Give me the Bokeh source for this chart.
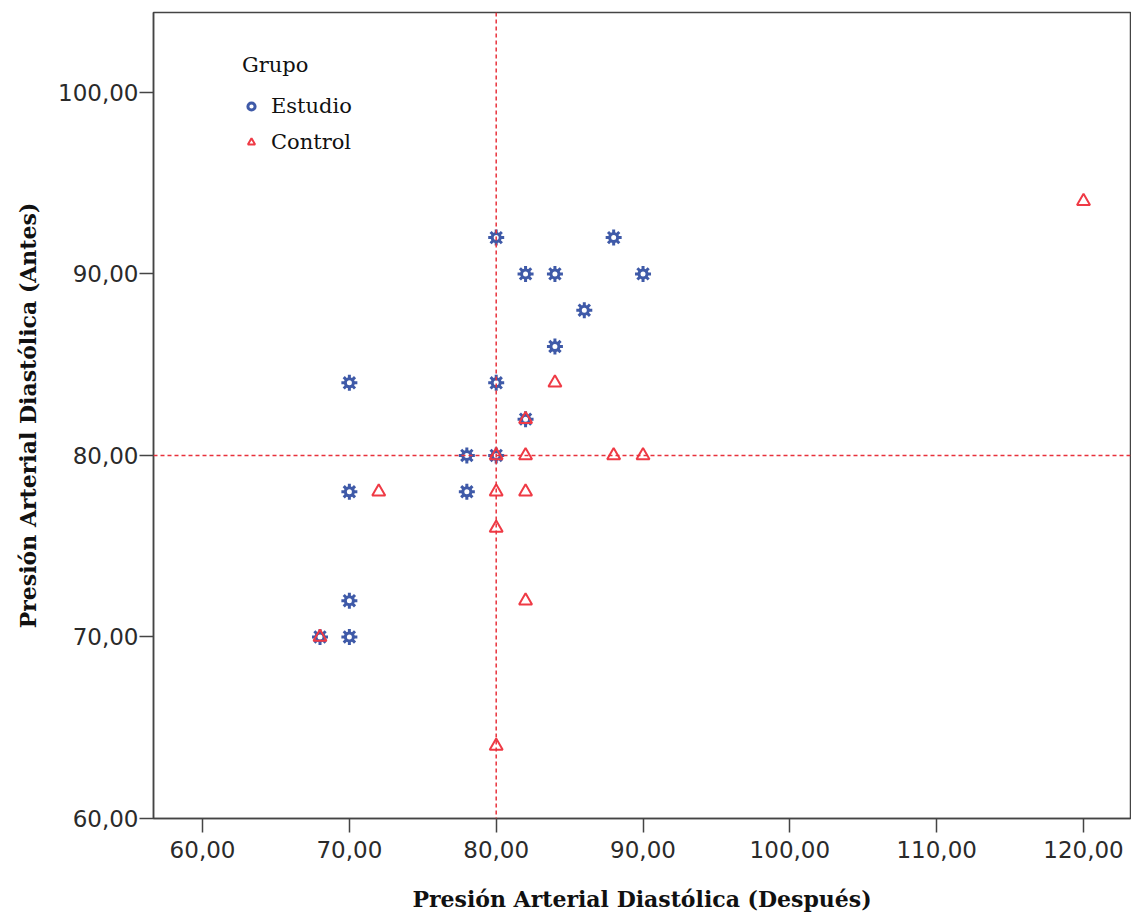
from bokeh.plotting import figure
from bokeh.models import Range1d, Span, FixedTicker, CustomJSTickFormatter, Legend, LegendItem
from bokeh.embed import file_html
from bokeh.resources import INLINE

# Data: (Después, Antes)
estudio_x = [80, 82, 84, 88, 90, 86, 84, 70, 80, 82, 78, 80, 70, 78, 70, 70, 68]
estudio_y = [92, 90, 90, 92, 90, 88, 86, 84, 84, 82, 80, 80, 78, 78, 72, 70, 70]
control_x = [120, 84, 82, 80, 82, 88, 90, 72, 80, 82, 80, 82, 68, 80]
control_y = [94, 84, 82, 80, 80, 80, 80, 78, 78, 78, 76, 72, 70, 64]
x_ticks = [60, 70, 80, 90, 100, 110, 120]
y_ticks = [60, 70, 80, 90, 100]
ref_x = 80
ref_y = 80

p = figure(width=1131, height=915, output_backend="svg", toolbar_location=None,
           x_range=Range1d(56.66, 123.2), y_range=Range1d(60, 104.4),
           min_border_left=153, min_border_right=1, min_border_top=12, min_border_bottom=97)
p.grid.visible = False
p.outline_line_color = "#444444"
p.outline_line_width = 1.5
p.background_fill_color = "white"

fmt = CustomJSTickFormatter(code="return tick.toFixed(2).replace('.', ',');")
for ax, ticks in ((p.xaxis[0], x_ticks), (p.yaxis[0], y_ticks)):
    ax.ticker = FixedTicker(ticks=ticks)
    ax.formatter = fmt
    ax.minor_tick_line_color = None
    ax.major_tick_out = 14
    ax.major_tick_in = 0
    ax.axis_line_color = "#444444"
    ax.axis_line_width = 1.5
    ax.major_tick_line_color = "#444444"
    ax.major_tick_line_width = 1.5
    ax.major_label_text_font = "DejaVu Sans"
    ax.major_label_text_font_size = "23px"
    ax.major_label_text_color = "#2a2a2a"
    ax.axis_label_text_font = "DejaVu Serif"
    ax.axis_label_text_font_style = "bold"
    ax.axis_label_text_font_size = "22px"
    ax.axis_label_text_color = "#111111"

p.xaxis[0].axis_label = "Presión Arterial Diastólica (Después)"
p.yaxis[0].axis_label = "Presión Arterial Diastólica (Antes)"
p.xaxis[0].axis_label_standoff = 25
p.yaxis[0].axis_label_standoff = 14
p.xaxis[0].major_label_standoff = 8
p.yaxis[0].major_label_standoff = 1

p.add_layout(Span(location=ref_x, dimension="height", line_color="#e8323c",
                  line_dash="4 3", line_width=1.5))
p.add_layout(Span(location=ref_y, dimension="width", line_color="#e8323c",
                  line_dash="4 3", line_width=1.5))

blue = "#3f5aa8"
red = "#ef3a45"
r2 = p.scatter(estudio_x, estudio_y, marker="asterisk", size=16,
               line_color=blue, line_width=3)
r1 = p.scatter(estudio_x, estudio_y, marker="circle", size=8, fill_color="white",
               line_color=blue, line_width=3)
r3 = p.scatter(control_x, control_y, marker="triangle", size=13, fill_color=None,
               line_color=red, line_width=2)

legend = Legend(items=[LegendItem(label="Estudio", renderers=[r2, r1]),
                       LegendItem(label="Control", renderers=[r3])],
                title="Grupo", location=(89, 664))
legend.border_line_color = None
legend.background_fill_alpha = 0
legend.label_text_font = "DejaVu Serif"
legend.label_text_font_size = "21px"
legend.label_text_color = "#111111"
legend.title_text_font = "DejaVu Serif"
legend.title_text_font_size = "21px"
legend.title_text_font_style = "normal"
legend.title_text_color = "#111111"
legend.title_standoff = 17
legend.label_height = 22
legend.glyph_height = 22
legend.glyph_width = 18
legend.spacing = 12
legend.label_standoff = 11
p.add_layout(legend)

open("out.html", "w").write(file_html(p, INLINE))
